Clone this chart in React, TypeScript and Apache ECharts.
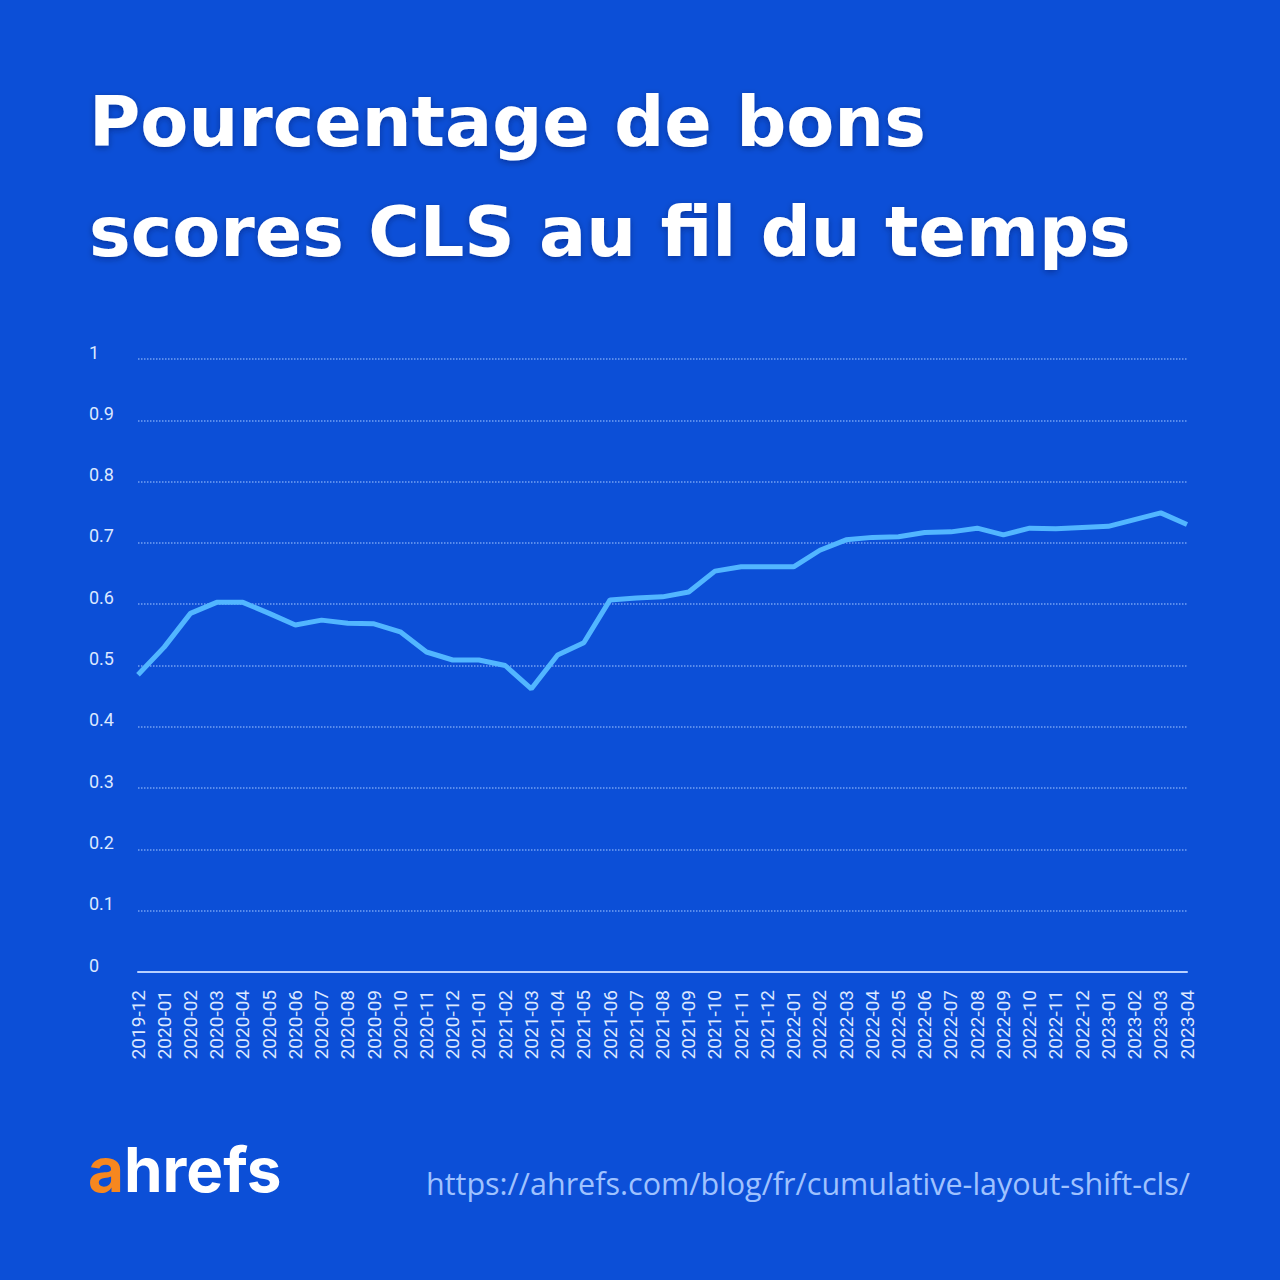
import React, { useEffect, useRef } from "react";
import * as echarts from "echarts";

const months = [
  "2019-12", "2020-01", "2020-02", "2020-03", "2020-04", "2020-05", "2020-06", "2020-07",
  "2020-08", "2020-09", "2020-10", "2020-11", "2020-12", "2021-01", "2021-02", "2021-03",
  "2021-04", "2021-05", "2021-06", "2021-07", "2021-08", "2021-09", "2021-10", "2021-11",
  "2021-12", "2022-01", "2022-02", "2022-03", "2022-04", "2022-05", "2022-06", "2022-07",
  "2022-08", "2022-09", "2022-10", "2022-11", "2022-12", "2023-01", "2023-02", "2023-03",
  "2023-04",
];

const goodClsShare = [
  0.485, 0.53, 0.585, 0.603, 0.603, 0.585, 0.566, 0.574,
  0.569, 0.568, 0.555, 0.522, 0.509, 0.509, 0.5, 0.462,
  0.517, 0.537, 0.607, 0.61, 0.612, 0.62, 0.654, 0.661,
  0.661, 0.661, 0.688, 0.705, 0.709, 0.71, 0.717, 0.718,
  0.724, 0.713, 0.724, 0.723, 0.725, 0.727, 0.738, 0.749,
  0.73,
];

const titleLines = ["Pourcentage de bons", "scores CLS au fil du temps"];
const sourceUrl = "https://ahrefs.com/blog/fr/cumulative-layout-shift-cls/";

export default function App() {
  const ref = useRef<HTMLDivElement>(null);
  useEffect(() => {
    if (!ref.current) return;
    const chart = echarts.init(ref.current, undefined, { renderer: "svg" });
    chart.setOption({
      animation: false,
      backgroundColor: "#0c4fd7",
      grid: { left: 138, right: 93, top: 359, bottom: 308 },
      xAxis: {
        type: "category",
        data: months,
        boundaryGap: false,
        axisLine: { show: true, lineStyle: { color: "#b8d0ff", width: 2 } },
        axisTick: { show: false },
        axisLabel: {
          rotate: 90,
          interval: 0,
          margin: 18,
          color: "#dbe7ff",
          fontSize: 19,
          fontFamily: "Roboto, sans-serif",
        },
        splitLine: { show: false },
      },
      yAxis: {
        type: "value",
        min: 0,
        max: 1,
        interval: 0.1,
        axisLine: { show: false },
        axisTick: { show: false },
        axisLabel: {
          align: "left",
          verticalAlign: "bottom",
          lineHeight: 14,
          margin: 49,
          color: "#dbe7ff",
          fontSize: 18,
          fontFamily: "Roboto, sans-serif",
          formatter: (v: number) => (Math.round(v * 10) / 10).toString(),
        },
        splitLine: {
          show: true,
          lineStyle: { color: "rgba(160,195,255,0.7)", type: "dotted", width: 1.5 },
        },
      },
      series: [
        {
          type: "line",
          data: goodClsShare,
          symbol: "none",
          lineStyle: { color: "#52b6ff", width: 5 },
          z: 3,
        },
      ],
      graphic: [
        {
          type: "text",
          left: 89,
          top: 67,
          style: {
            text: titleLines.join("\n"),
            fill: "#ffffff",
            font: "bold 70px 'DejaVu Sans', sans-serif",
            lineHeight: 110,
            textShadowColor: "rgba(0,0,40,0.35)",
            textShadowBlur: 6,
            textShadowOffsetY: 2,
          },
        },
        {
          type: "text",
          left: 88,
          top: 1138,
          style: {
            text: "{a|a}{b|hrefs}",
            rich: {
              a: { fill: "#f7871f", font: "bold 62px Inter, sans-serif" },
              b: { fill: "#ffffff", font: "bold 62px Inter, sans-serif" },
            },
          },
        },
        {
          type: "text",
          right: 90,
          top: 1167,
          style: {
            text: sourceUrl,
            fill: "#9fc2ff",
            font: "30.5px 'Open Sans', sans-serif",
          },
        },
      ],
    });
    return () => chart.dispose();
  }, []);
  return (
    <div
      ref={ref}
      style={{ position: "fixed", left: 0, top: 0, width: 1280, height: 1280 }}
    />
  );
}
